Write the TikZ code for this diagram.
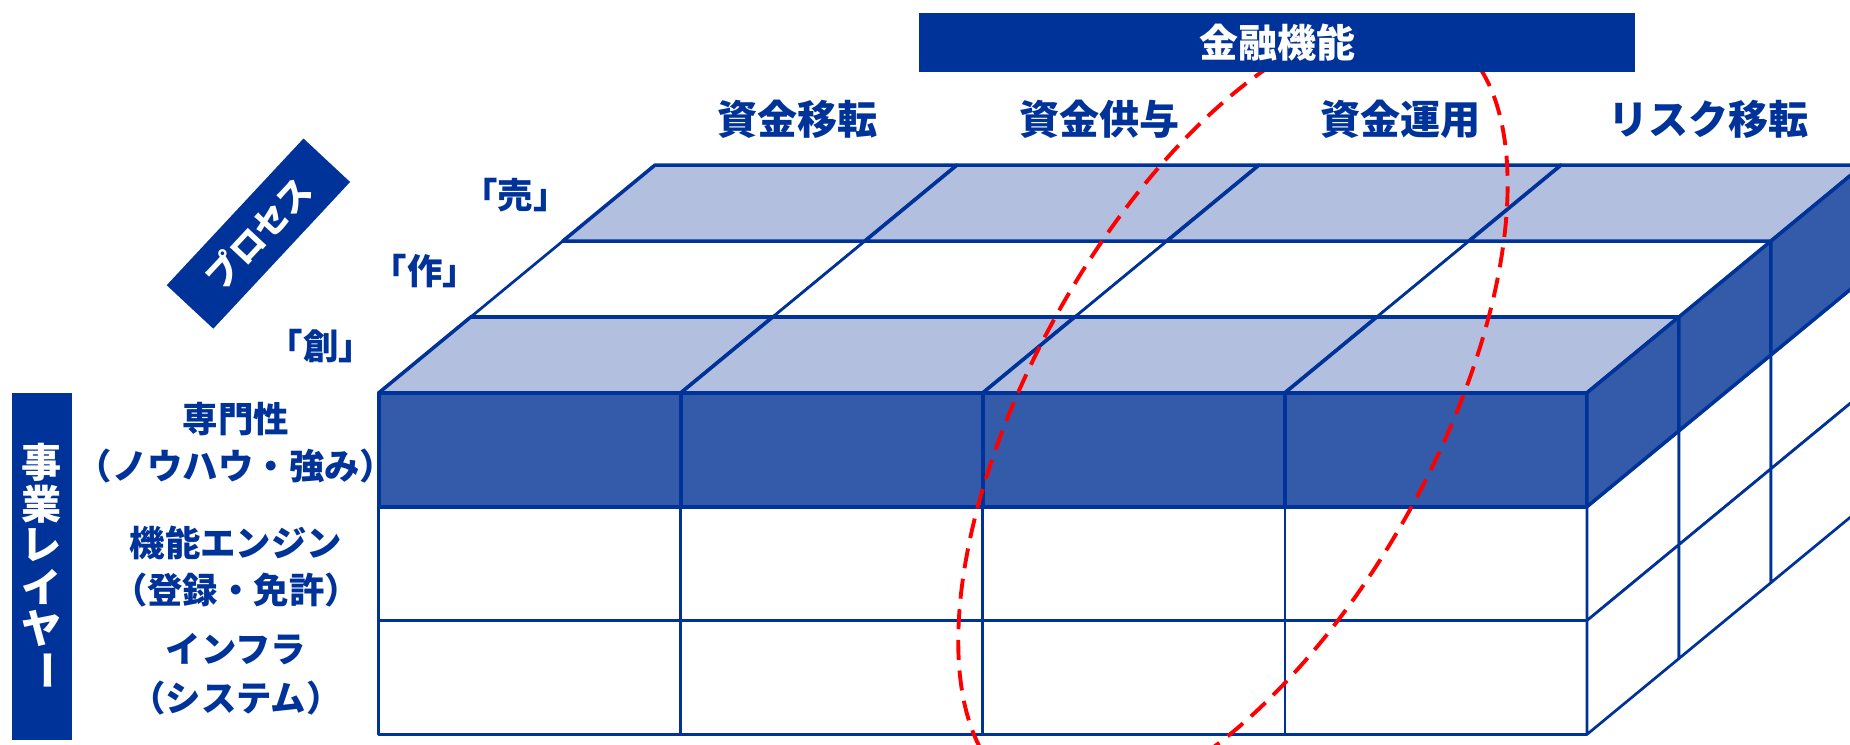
\documentclass[tikz,border=0pt]{standalone}
\usepackage{fontspec}
\newfontfamily\jp{Noto Sans CJK JP}
\definecolor{navy}{RGB}{0,51,153}
\definecolor{midblue}{RGB}{51,91,170}
\definecolor{lightblue}{RGB}{178,191,223}
\begin{document}
\begin{tikzpicture}[x=1pt,y=1pt,
  hdr/.style={font=\jp\bfseries\fontsize{34}{38}\selectfont, text=navy, inner sep=0pt},
  lbl/.style={font=\jp\bfseries\fontsize{30}{34}\selectfont, text=navy, inner sep=0pt},
  proc/.style={font=\jp\bfseries\fontsize{30}{32}\selectfont, text=navy, inner sep=0pt},
  wlbl/.style={font=\jp\bfseries\fontsize{34}{36}\selectfont, text=white, inner sep=0pt},
  cellw/.style={draw=navy, fill=white, line width=2.3pt, line join=round},
  celll/.style={draw=navy, fill=lightblue, line width=3pt, line join=round},
  celld/.style={draw=navy, fill=midblue, line width=3pt, line join=round},
  ring/.style={draw=red, line width=3.3pt, dash pattern=on 17pt off 9pt}]
\useasboundingbox (0,0) rectangle (1568,631);
\begin{scope}
\clip (0,0) rectangle (1568,631);
% top face
\foreach \i in {0,...,3} {
  \path[cellw] ({321+256*\i+78},{298+64.33}) -- ++(256,0) -- ++(78,64.33) -- ++(-256,0) -- cycle;
}
\foreach \k in {0,2} {
  \foreach \i in {0,...,3} {
    \path[celll] ({321+256*\i+78*\k},{298+64.33*\k}) -- ++(256,0) -- ++(78,64.33) -- ++(-256,0) -- cycle;
  }
}
% front face
\foreach \r in {1,2} {
  \foreach \i in {0,...,3} {
    \path[cellw] ({321+256*\i},{298-96.5*\r}) rectangle ++(256,-96.5);
  }
}
\foreach \i in {0,...,3} {
  \path[celld] ({321+256*\i},298) rectangle ++(256,-96.5);
}
% side face
\foreach \r in {1,2} {
  \foreach \k in {0,1,2} {
    \path[cellw] ({1345+78*\k},{298-96.5*\r+64.33*\k}) -- ++(78,64.33) -- ++(0,-96.5) -- ++(-78,-64.33) -- cycle;
  }
}
\foreach \k in {0,1,2} {
  \path[celld] ({1345+78*\k},{298+64.33*\k}) -- ++(78,64.33) -- ++(0,-96.5) -- ++(-78,-64.33) -- cycle;
}
% red dashed ring
\path[ring, shift={(1045,281)}, rotate=61] (0,0) ellipse [x radius=368pt, y radius=171pt];
\end{scope}
% title bar
\node[fill=navy, minimum width=607pt, minimum height=50pt, inner sep=0pt, text=white,
  font=\jp\bfseries\fontsize{33}{36}\selectfont] (title) at (1082.5,595) {金融機能};
% column headers
\node[hdr] (c1) at (676,530) {資金移転};
\node[hdr] (c2) at (932,530) {資金供与};
\node[hdr] (c3) at (1187,530) {資金運用};
\node[hdr] (c4) at (1448,530) {リスク移転};
% process labels
\node[proc] (p3) at (437,466) {「売」};
\node[proc] (p2) at (360,401) {「作」};
\node[proc] (p1) at (272,338) {「創」};
\node[fill=navy, rotate=47, minimum width=170pt, minimum height=54pt, inner sep=0pt,
  text=white, font=\jp\bfseries\fontsize{29}{32}\selectfont] (procbar) at (219,433) {プロセス};
% row labels
\node[lbl] (r1a) at (200,276) {専門性};
\node[lbl] (r1b) at (200,236) {（ノウハウ・強み）};
\node[lbl] (r2a) at (200,171) {機能エンジン};
\node[lbl] (r2b) at (200,131) {（登録・免許）};
\node[lbl] (r3a) at (200,81) {インフラ};
\node[lbl] (r3b) at (200,39) {（システム）};
% layer bar
\node[fill=navy, minimum width=51pt, minimum height=294pt, inner sep=0pt] (layerbar) at (35.5,151) {};
\node[wlbl] (l1) at (35.5,239.5) {事};
\node[wlbl] (l2) at (35.5,204) {業};
\node[wlbl] (l3) at (35.5,169) {レ};
\node[wlbl] (l4) at (35.5,133.5) {イ};
\node[wlbl] (l5) at (35.5,98) {ヤ};
\node[wlbl, rotate=-90] (l6) at (35.5,63) {ー};
\end{tikzpicture}
\end{document}
